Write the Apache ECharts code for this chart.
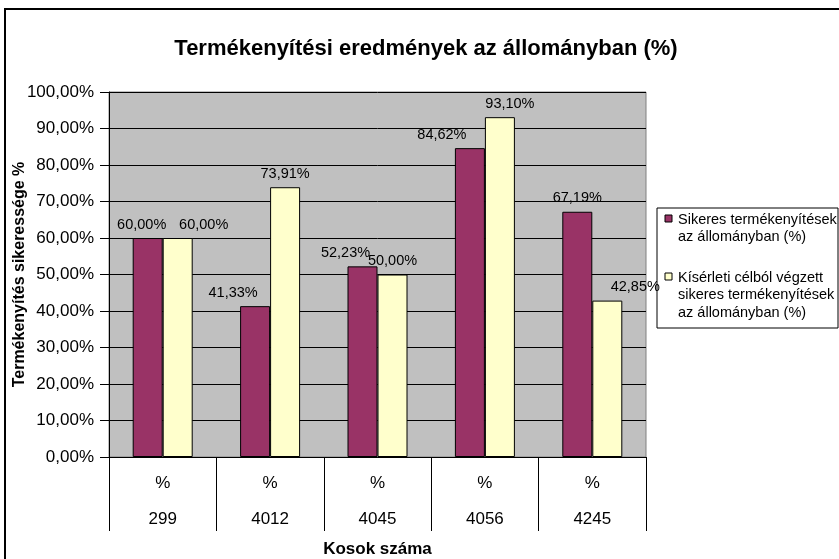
<!DOCTYPE html>
<html>
<head>
<meta charset="utf-8">
<script src="https://cdn.jsdelivr.net/npm/echarts@6/dist/echarts.min.js"></script>
<style>html,body{margin:0;padding:0;background:#fff}#c{width:839px;height:559px}</style>
</head>
<body>
<div id="c"></div>
<script>
const categories = ['299', '4012', '4045', '4056', '4245'];
const seriesNames = ['Sikeres termékenyítések\naz állományban (%)', 'Kísérleti célból végzett\nsikeres termékenyítések\naz állományban (%)'];
const sikeres = [60.00, 41.33, 52.23, 84.62, 67.19];
const kiserleti = [60.00, 73.91, 50.00, 93.10, 42.85];
const yTicks = [0, 10, 20, 30, 40, 50, 60, 70, 80, 90, 100];
const titleText = 'Termékenyítési eredmények az állományban (%)';
const yName = 'Termékenyítés sikeressége %';
const xName = 'Kosok száma';

const FONT = '"Liberation Sans", Arial, sans-serif';
const colors = ['#993366', '#FFFFCC'];
// label nudges (Excel label placement)
const nudge = [[-6, -22, -17, -28, 0], [26, 0, 0, 10, 28]];
const fmt = v => v.toFixed(2).replace('.', ',') + '%';

const chart = echarts.init(document.getElementById('c'));
function mkSeries(idx, vals) {
  return {
    name: seriesNames[idx], type: 'bar', barWidth: 30, barGap: '0%',
    itemStyle: { color: colors[idx], borderColor: '#000', borderWidth: 1 },
    data: vals.map((v, i) => ({ value: v, label: { offset: [nudge[idx][i], 0] } })),
    label: { show: true, position: 'top', distance: 6, color: '#000', fontFamily: FONT, fontSize: 14.5,
      formatter: p => fmt(p.value) }
  };
}
// legend drawn as graphic (icon aligned with first text line, as in Excel)
const legendGraphic = [];
const lx = 657, ly = 208;
legendGraphic.push({ type: 'rect', shape: { x: lx, y: ly, width: 181, height: 120 }, style: { fill: '#fff', stroke: '#000', lineWidth: 1 } });
const itemTops = [ly + 3, ly + 61];
seriesNames.forEach((n, i) => {
  legendGraphic.push({ type: 'rect', shape: { x: lx + 8, y: itemTops[i] + 4, width: 7, height: 7 }, style: { fill: colors[i], stroke: '#000', lineWidth: 1 } });
  legendGraphic.push({ type: 'text', x: lx + 21, y: itemTops[i], style: { text: n, font: '14.5px ' + FONT, fill: '#000', lineHeight: 17.5 } });
});

chart.setOption({
  animation: false,
  backgroundColor: '#fff',
  title: { text: titleText, left: 421, top: 33, textAlign: 'center',
    textStyle: { fontFamily: FONT, fontWeight: 'bold', fontSize: 22, color: '#000' } },
  grid: { left: 109, right: 193, top: 92, bottom: 102, outerBoundsMode: 'none', show: true, backgroundColor: '#C0C0C0', borderColor: '#808080', borderWidth: 1 },
  xAxis: {
    type: 'category', data: categories, boundaryGap: true,
    axisLine: { lineStyle: { color: '#000', width: 1 } },
    axisTick: { show: true, interval: 0, length: 74, lineStyle: { color: '#000' } },
    axisLabel: { interval: 0, margin: 8, formatter: v => '{a|%}\n{a|' + v + '}',
      rich: { a: { fontFamily: FONT, fontSize: 17, lineHeight: 36, color: '#000' } } },
    name: xName, nameLocation: 'middle', nameGap: 84, nameMoveOverlap: false,
    nameTextStyle: { fontFamily: FONT, fontWeight: 'bold', fontSize: 17, color: '#000' }
  },
  yAxis: {
    type: 'value', min: yTicks[0], max: yTicks[yTicks.length - 1], interval: yTicks[1] - yTicks[0],
    axisLine: { show: true, lineStyle: { color: '#000' } },
    axisTick: { show: true, length: 9, lineStyle: { color: '#000' } },
    splitLine: { lineStyle: { color: '#000', width: 1 } },
    axisLabel: { formatter: v => fmt(v), fontFamily: FONT, fontSize: 17, color: '#000', margin: 15 },
    name: yName, nameLocation: 'middle', nameGap: 81, nameRotate: 90, nameMoveOverlap: false,
    nameTextStyle: { fontFamily: FONT, fontWeight: 'bold', fontSize: 16, color: '#000' }
  },
  series: [mkSeries(0, sikeres), mkSeries(1, kiserleti)],
  graphic: [
    { type: 'rect', shape: { x: 5, y: 9, width: 850, height: 560 }, style: { fill: 'none', stroke: '#000', lineWidth: 2 }, z: 100 },
    ...legendGraphic
  ]
});
</script>
</body>
</html>
